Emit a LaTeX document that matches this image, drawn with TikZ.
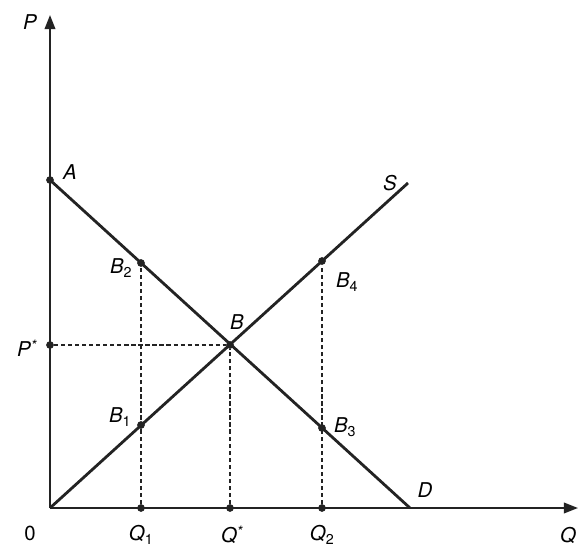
\documentclass[tikz,border=0pt]{standalone}
\usepackage{fontspec}
\setmainfont{TeX Gyre Heros}
\usetikzlibrary{arrows.meta,positioning,calc}
\definecolor{traco}{RGB}{35,35,35}

\begin{document}
\begin{tikzpicture}[x=0.5mm, y=0.5mm, font=\fontsize{29}{34}\selectfont\itshape,
  eixo/.style={traco, line width=2.6pt, -{Triangle[length=20pt,width=15pt]}},
  curva/.style={traco, line width=4pt},
  guia/.style={traco, line width=1.8pt, dash pattern=on 6pt off 4pt},
  ponto/.style={circle, fill=traco, inner sep=0pt, minimum size=11pt},
  rotulo/.style={inner sep=0pt}]
  \useasboundingbox (-50,-39) rectangle (529,508);

  % Eixos
  \coordinate (O) at (0,0);
  \coordinate (Ptop) at (0,493);
  \coordinate (Qend) at (528,0);
  \draw[eixo] (O) -- (Ptop);
  \draw[eixo] (O) -- (Qend);

  % Pontos
  \node[ponto] (A) at (0,328) {};
  \node[ponto] (Pst) at (0,163) {};
  \node[ponto] (Q1) at (91,0) {};
  \node[ponto] (Qst) at (180,0) {};
  \node[ponto] (Q2) at (272,0) {};
  \node[ponto] (B1) at (91,83) {};
  \node[ponto] (B2) at (91,245) {};
  \node[ponto] (B) at (180,163) {};
  \node[ponto] (B3) at (272,80) {};
  \node[ponto] (B4) at (272,247) {};
  \coordinate (D) at (360,0);
  \coordinate (S) at (358,325);

  % Linhas tracejadas
  \draw[guia] (Pst) -- (B);
  \draw[guia] (Q1) -- (B2);
  \draw[guia] (Qst) -- (B);
  \draw[guia] (Q2) -- (B4);

  % Oferta e procura
  \draw[curva] (A.center) -- (D);
  \draw[curva] (O) -- (S);

  % Rotulos
  \node[rotulo] (lP) at (-20,486) {P};
  \node[rotulo] (lA) at (20,336) {A};
  \node[rotulo] (lPst) at (-23,160) {P\textsuperscript{*}};
  \node[rotulo] (lB) at (187,186) {B};
  \node[rotulo] (lB1) at (70,91) {B\textsubscript{\upshape 1}};
  \node[rotulo] (lB2) at (71,240) {B\textsubscript{\upshape 2}};
  \node[rotulo] (lB3) at (295,81) {B\textsubscript{\upshape 3}};
  \node[rotulo] (lB4) at (297,226) {B\textsubscript{\upshape 4}};
  \node[rotulo] (lS) at (340,325) {S};
  \node[rotulo] (lD) at (375,18) {D};
  \node[rotulo] (l0) at (-20,-25) {\upshape 0};
  \node[rotulo] (lQ1) at (91,-27) {Q\textsubscript{\upshape 1}};
  \node[rotulo] (lQst) at (182,-27) {Q\textsuperscript{*}};
  \node[rotulo] (lQ2) at (272,-27) {Q\textsubscript{\upshape 2}};
  \node[rotulo] (lQ) at (518,-27) {Q};
\end{tikzpicture}
\end{document}
